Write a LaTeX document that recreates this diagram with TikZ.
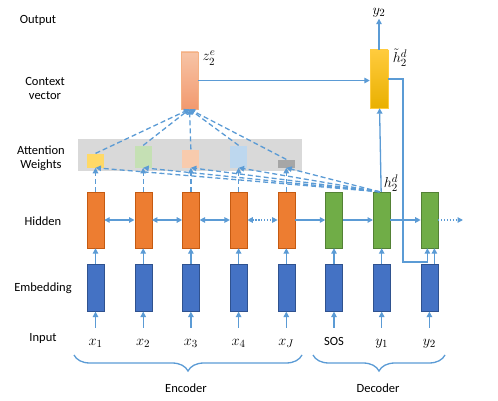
\documentclass[tikz,border=0pt]{standalone}
\usepackage{amsmath}
\usepackage{fontspec}
\setmainfont{Carlito}
\usetikzlibrary{positioning,arrows.meta,calc,decorations.pathreplacing}
\definecolor{arrblue}{HTML}{5B9BD5}
\definecolor{encfill}{HTML}{ED7D31}
\definecolor{encline}{HTML}{C55A11}
\definecolor{decfill}{HTML}{70AD47}
\definecolor{decline}{HTML}{538135}
\definecolor{embfill}{HTML}{4472C4}
\definecolor{embline}{HTML}{2F528F}
\definecolor{bandgray}{HTML}{D9D9D9}
\definecolor{ctxtop}{HTML}{F7C4A6}
\definecolor{ctxbot}{HTML}{F2996E}
\definecolor{ctxline}{HTML}{F4B183}
\definecolor{yeltop}{HTML}{FFCB3D}
\definecolor{yelbot}{HTML}{E9B000}
\definecolor{attyel}{HTML}{FFD966}
\definecolor{attgreen}{HTML}{C5E0B4}
\definecolor{attsalmon}{HTML}{F8CBAD}
\definecolor{attblue}{HTML}{BDD7EE}
\definecolor{attgray}{HTML}{A6A6A6}

\begin{document}
\begin{tikzpicture}[x=1pt, y=-1pt,
    enc/.style={draw=encline, fill=encfill, minimum width=17pt, minimum height=56pt, inner sep=0pt},
    dec/.style={enc, draw=decline, fill=decfill},
    emb/.style={draw=embline, fill=embfill, minimum width=17pt, minimum height=47pt, inner sep=0pt},
    att/.style={minimum width=17pt, inner sep=0pt},
    arrow/.style={-{Triangle[length=5.5pt,width=5.5pt]}, line width=1.3pt, draw=arrblue},
    darrow/.style={arrow, {Triangle[length=5.5pt,width=5.5pt]}-{Triangle[length=5.5pt,width=5.5pt]}},
    dasharrow/.style={arrow, dash pattern=on 5pt off 3pt},
    dotarrow/.style={dash pattern=on 1.3pt off 1.6pt},
    rowlabel/.style={font=\fontsize{12.5}{14}\selectfont, align=center},
    vlabel/.style={font=\fontsize{15}{17}\selectfont, inner sep=1pt},
    inlabel/.style={vlabel, anchor=base, text height=8pt, text depth=3pt, inner ysep=9pt},
    brace/.style={decorate, decoration={brace, mirror, amplitude=16pt}, line width=1.3pt, draw=arrblue},
    node distance=30.3pt
]
\useasboundingbox (0,0) rectangle (498,401);

% Row labels
\node[rowlabel] (routput) at (38,20) {Output};
\node[rowlabel] (rcontext) at (45,88) {Context\\vector};
\node[rowlabel] (rattn) at (41,158) {Attention\\Weights};
\node[rowlabel] (rhidden) at (43,221) {Hidden};
\node[rowlabel] (rembed) at (43,288) {Embedding};
\node[rowlabel] (rinput) at (43,338) {Input};

% Hidden states
\node[enc] (h1) at (95.5,220) {};
\node[enc, right=of h1] (h2) {};
\node[enc, right=of h2] (h3) {};
\node[enc, right=of h3] (h4) {};
\node[enc, right=of h4] (h5) {};
\node[dec, right=of h5] (d1) {};
\node[dec, right=of d1] (d2) {};
\node[dec, right=of d2] (d3) {};
\coordinate (hend) at (463,220);

% Embeddings
\node[emb, below=16pt of h1] (e1) {};
\node[emb, below=16pt of h2] (e2) {};
\node[emb, below=16pt of h3] (e3) {};
\node[emb, below=16pt of h4] (e4) {};
\node[emb, below=16pt of h5] (e5) {};
\node[emb, below=16pt of d1] (e6) {};
\node[emb, below=16pt of d2] (e7) {};
\node[emb, below=16pt of d3] (e8) {};

% Inputs
\coordinate (inbase) at (0,345);
\node[inlabel] (x1) at (e1 |- inbase) {$x_1$};
\node[inlabel] (x2) at (e2 |- inbase) {$x_2$};
\node[inlabel] (x3) at (e3 |- inbase) {$x_3$};
\node[inlabel] (x4) at (e4 |- inbase) {$x_4$};
\node[inlabel] (xj) at (e5 |- inbase) {$x_J$};
\node[inlabel, font=\fontsize{12.5}{14}\selectfont] (sos) at (e6 |- inbase) {SOS};
\node[inlabel] (y1) at (e7 |- inbase) {$y_1$};
\node[inlabel] (y2) at (e8 |- inbase) {$y_2$};

% Attention weights
\node[fill=bandgray, minimum width=224pt, minimum height=32pt, inner sep=0pt] (band) at (190,155) {};
\node[att, fill=attyel, minimum height=14pt, above=24pt of h1] (a1) {};
\node[att, fill=attgreen, minimum height=22pt, above=24pt of h2] (a2) {};
\node[att, fill=attsalmon, minimum height=18pt, above=24pt of h3] (a3) {};
\node[att, fill=attblue, minimum height=22pt, above=24pt of h4] (a4) {};
\node[att, fill=attgray, minimum height=8pt, above=24pt of h5] (a5) {};

% Context vector and attentional state
\node[enc, draw=ctxline, top color=ctxtop, bottom color=ctxbot, minimum height=57pt] (ctx) at (189.5,80.5) {};
\node[enc, draw=yeltop, top color=yeltop, bottom color=yelbot, minimum width=18pt, minimum height=58pt] (yel) at (379,79) {};
\node[vlabel] (ze) at (209,58) {$z_2^e$};
\node[vlabel] (htd) at (400,58) {$\tilde{h}_2^d$};
\node[vlabel] (hd) at (391,183) {$h_2^d$};
\node[vlabel] (out) at (379,13) {$y_2$};

% Arrows
\draw[arrow] (x1) -- (e1);
\draw[arrow] (x2) -- (e2);
\draw[arrow] (x3) -- (e3);
\draw[arrow] (x4) -- (e4);
\draw[arrow] (xj) -- (e5);
\draw[arrow] (sos) -- (e6);
\draw[arrow] (y1) -- (e7);
\draw[arrow] (y2) -- (e8);
\draw[arrow] (e1) -- (h1);
\draw[arrow] (e2) -- (h2);
\draw[arrow] (e3) -- (h3);
\draw[arrow] (e4) -- (h4);
\draw[arrow] (e5) -- (h5);
\draw[arrow] (e6) -- (d1);
\draw[arrow] (e7) -- (d2);
\draw[arrow] ([xshift=5pt]e8.north) -- ([xshift=5pt]d3.south);
\draw[darrow] (h1) -- (h2);
\draw[darrow] (h2) -- (h3);
\draw[darrow] (h3) -- (h4);
\draw[darrow, dotarrow] (h4) -- (h5);
\draw[arrow] (h5) -- (d1);
\draw[arrow] (d1) -- (d2);
\draw[arrow] (d2) -- (d3);
\draw[arrow, dotarrow] (d3) -- (hend);

\draw[dasharrow] (h1) -- (a1);
\draw[dasharrow] (h2) -- (a2);
\draw[dasharrow] (h3) -- (a3);
\draw[dasharrow] (h4) -- (a4);
\draw[dasharrow] (h5) -- (a5);
\draw[dasharrow] ([xshift=-2pt]d2.north) -- (a1.south);
\draw[dasharrow] ([xshift=-2pt]d2.north) -- (a2.south);
\draw[dasharrow] ([xshift=-2pt]d2.north) -- (a3.south);
\draw[dasharrow] ([xshift=-2pt]d2.north) -- (a4.south);
\draw[dasharrow] ([xshift=-2pt]d2.north) -- (a5.south);
\draw[dasharrow] (a1.north) -- (ctx.south);
\draw[dasharrow] (a2.north) -- (ctx.south);
\draw[dasharrow] (a3.north) -- (ctx.south);
\draw[dasharrow] (a4.north) -- (ctx.south);
\draw[dasharrow] (a5.north) -- (ctx.south);

\draw[arrow] (ctx.east) -- (ctx.east -| yel.west);
\draw[arrow] (d2) -- (yel);
\draw[arrow] (yel) -- (out);
\coordinate (fb) at (403,262);
\draw[arrow] (yel.east) -| (fb) -| ([xshift=-2pt]d3.south);

% Braces
\draw[brace] (74,355) -- (302,355);
\node[rowlabel] (encl) at (186,388) {Encoder};
\draw[brace] (313,355) -- (445,355);
\node[rowlabel] (decl) at (378,388) {Decoder};
\end{tikzpicture}
\end{document}
